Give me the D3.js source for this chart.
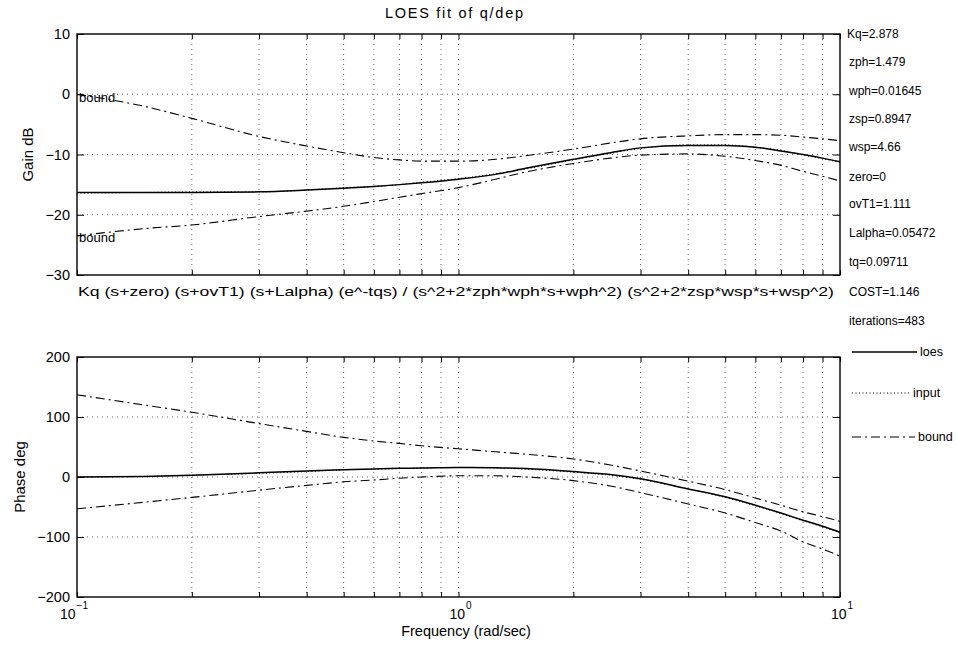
<!DOCTYPE html>
<html>
<head>
<meta charset="utf-8">
<script src="https://cdn.jsdelivr.net/npm/d3@7"></script>
<style>
  html, body { margin: 0; padding: 0; background: #fff; }
  svg { display: block; font-family: "Liberation Sans", Arial, Helvetica, sans-serif; }
</style>
</head>
<body>
<svg id="chart" width="957" height="645"></svg>
<script>
// Frequency grid (rad/sec)
const freq = [0.1, 0.15, 0.2, 0.3, 0.4, 0.5, 0.6, 0.7, 0.8, 1.0, 1.25, 1.5, 2, 2.5, 3, 4, 5, 6, 7, 8, 9, 10];

// Gain (dB)
const gainLoes  = [-16.3, -16.3, -16.3, -16.2, -15.9, -15.6, -15.3, -15.0, -14.7, -14.1, -13.3, -12.3, -10.8, -9.7, -8.9, -8.5, -8.5, -8.8, -9.4, -10.0, -10.6, -11.2];
const gainInput = [-16.4, -16.3, -16.2, -16.2, -15.9, -15.5, -15.3, -15.0, -14.6, -14.0, -13.2, -12.4, -10.9, -9.8, -9.0, -8.4, -8.4, -8.8, -9.3, -10.1, -10.7, -11.3];
const gainUpper = [0.0, -2.0, -4.0, -7.0, -8.6, -9.7, -10.5, -10.9, -11.1, -11.1, -10.8, -10.2, -9.1, -8.1, -7.4, -6.9, -6.7, -6.7, -6.8, -7.1, -7.4, -7.7];
const gainLower = [-23.5, -22.3, -21.7, -20.3, -19.4, -18.6, -17.8, -17.1, -16.5, -15.5, -14.1, -12.9, -11.5, -10.6, -10.1, -9.9, -10.3, -11.0, -11.8, -12.8, -13.6, -14.4];

// Phase (deg)
const phaseLoes  = [0, 1, 3, 7, 10, 12, 13.5, 14.5, 15, 16, 15.5, 14, 9, 4, -3, -20, -33, -47, -60, -72, -82, -92];
const phaseInput = [0, 1, 3, 6, 9, 12, 13, 14, 15, 16, 15, 13, 8, 3, -4, -20, -34, -48, -61, -73, -83, -93];
const phaseUpper = [137, 120, 108, 89, 76, 66, 60, 56, 52, 47, 42, 38, 30, 20, 10, -7, -21, -35, -47, -58, -66, -74];
const phaseLower = [-53, -42, -34, -22, -14, -8, -5, -2, 0, 2, 2, 0, -6, -15, -26, -45, -60, -76, -90, -108, -120, -132];

// Axis ticks
const gainTicks  = [-30, -20, -10, 0, 10];
const phaseTicks = [-200, -100, 0, 100, 200];
const decadeTicks = [0.1, 1, 10];
const decadeExp   = ["-1", "0", "1"];
const minorTicks = [0.2,0.3,0.4,0.5,0.6,0.7,0.8,0.9,2,3,4,5,6,7,8,9];

// Text
const titleText = "LOES fit of q/dep";
const modelText = "Kq (s+zero) (s+ovT1) (s+Lalpha) (e^-tqs) / (s^2+2*zph*wph*s+wph^2) (s^2+2*zsp*wsp*s+wsp^2)";
const paramNames  = ["Kq", "zph", "wph", "zsp", "wsp", "zero", "ovT1", "Lalpha", "tq", "COST", "iterations"];
const paramValues = ["2.878", "1.479", "0.01645", "0.8947", "4.66", "0", "1.111", "0.05472", "0.09711", "1.146", "483"];
const legendNames = ["loes", "input", "bound"];

const svg = d3.select("#chart");

const x = d3.scaleLog().domain([0.1, 10]).range([77, 840]);
const yGain = d3.scaleLinear().domain([-30, 10]).range([275, 34]);
const yPhase = d3.scaleLinear().domain([-200, 200]).range([597, 357]);

const styles = {
  loes:  { width: 1.5, dash: null },
  input: { width: 1,   dash: "1,2.5" },
  bound: { width: 1.1, dash: "9,4,2,4" }
};

function drawPanel(y, ticks, series, labelText, labelX) {
  const g = svg.append("g");
  const [x0, x1] = x.range();
  const [yb, yt] = y.range();

  // dotted grid
  const gridX = minorTicks.concat([1]);
  g.selectAll(".gx").data(gridX).join("line")
    .attr("x1", d => x(d)).attr("x2", d => x(d))
    .attr("y1", yt).attr("y2", yb)
    .attr("stroke", "#444").attr("stroke-width", 0.8).attr("stroke-dasharray", "1,4");
  g.selectAll(".gy").data(ticks.slice(1, -1)).join("line")
    .attr("x1", x0).attr("x2", x1)
    .attr("y1", d => y(d)).attr("y2", d => y(d))
    .attr("stroke", "#444").attr("stroke-width", 0.8).attr("stroke-dasharray", "1,4");

  // curves
  const line = d3.line().x((d, i) => x(freq[i])).y(d => y(d)).curve(d3.curveMonotoneX);
  series.forEach(s => {
    const st = styles[s.kind];
    g.append("path").datum(s.values)
      .attr("d", line)
      .attr("fill", "none")
      .attr("stroke", "#000")
      .attr("stroke-width", st.width)
      .attr("stroke-dasharray", st.dash);
  });

  // frame
  g.append("rect").attr("x", x0).attr("y", yt).attr("width", x1 - x0).attr("height", yb - yt)
    .attr("fill", "none").attr("stroke", "#000").attr("stroke-width", 1.4);

  // inward ticks
  const allX = minorTicks.concat(decadeTicks);
  g.append("g").attr("transform", `translate(0,${yb})`)
    .call(d3.axisTop(x).tickValues(allX).tickSize(5).tickFormat(""))
    .call(a => a.select(".domain").remove());
  g.append("g").attr("transform", `translate(0,${yt})`)
    .call(d3.axisBottom(x).tickValues(allX).tickSize(5).tickFormat(""))
    .call(a => a.select(".domain").remove());
  g.append("g").attr("transform", `translate(${x0},0)`)
    .call(d3.axisRight(y).tickValues(ticks).tickSize(7).tickFormat(""))
    .call(a => a.select(".domain").remove());
  g.append("g").attr("transform", `translate(${x1},0)`)
    .call(d3.axisLeft(y).tickValues(ticks).tickSize(7).tickFormat(""))
    .call(a => a.select(".domain").remove());

  // y tick labels
  g.selectAll(".yl").data(ticks).join("text")
    .attr("x", x0 - 7).attr("y", d => y(d))
    .attr("text-anchor", "end").attr("dominant-baseline", "central")
    .attr("font-size", 14.5).text(d => d === 0 ? "0" : d3.format("")(d).replace("-", "\u2212"));

  // y axis label
  g.append("text")
    .attr("transform", `translate(${labelX},${(yt + yb) / 2}) rotate(-90)`)
    .attr("text-anchor", "middle").attr("dominant-baseline", "central")
    .attr("font-size", 15).text(labelText);
  return g;
}

drawPanel(yGain, gainTicks, [
  { kind: "input", values: gainInput },
  { kind: "bound", values: gainUpper },
  { kind: "bound", values: gainLower },
  { kind: "loes",  values: gainLoes }
], "Gain dB", 27);

drawPanel(yPhase, phaseTicks, [
  { kind: "input", values: phaseInput },
  { kind: "bound", values: phaseUpper },
  { kind: "bound", values: phaseLower },
  { kind: "loes",  values: phaseLoes }
], "Phase deg", 19);

// bound labels next to the start of each gain bound
svg.append("text").attr("x", 79).attr("y", yGain(gainUpper[0]) + 3)
  .attr("dominant-baseline", "central").attr("font-size", 13).text("bound");
svg.append("text").attr("x", 79).attr("y", yGain(gainLower[0]) + 2)
  .attr("dominant-baseline", "central").attr("font-size", 13).text("bound");

// frequency decade labels
decadeTicks.forEach((d, i) => {
  const t = svg.append("text").attr("x", x(d) + (i === 0 ? -3 : 2)).attr("y", 619)
    .attr("text-anchor", "middle").attr("font-size", 14);
  t.append("tspan").text("10");
  t.append("tspan").attr("dy", -10).attr("dx", 1).attr("font-size", 10).text(decadeExp[i].replace("-", "\u2212"));
});

svg.append("text").attr("x", 466).attr("y", 636).attr("text-anchor", "middle")
  .attr("font-size", 14.5).text("Frequency (rad/sec)");

// title
svg.append("text").attr("x", 454).attr("y", 18).attr("text-anchor", "middle")
  .attr("font-size", 14.5).attr("textLength", 138).attr("lengthAdjust", "spacing").text(titleText);

// model structure
svg.append("text").attr("x", 78).attr("y", 296)
  .attr("font-size", 13.5).attr("textLength", 756).attr("lengthAdjust", "spacingAndGlyphs").text(modelText);

// fitted parameters
const paramY = [34, 62, 91, 119, 147, 177, 204, 233, 262, 292, 321];
svg.selectAll(".param").data(paramNames).join("text")
  .attr("x", (d, i) => i === 0 ? 847 : 849)
  .attr("y", (d, i) => paramY[i])
  .attr("dominant-baseline", "central")
  .attr("font-size", 12)
  .text((d, i) => `${d}=${paramValues[i]}`);

// legend
const legY = [352, 393, 437];
const legX2 = [917, 910, 915];
legendNames.forEach((name, i) => {
  const st = styles[name];
  svg.append("line").attr("x1", 852).attr("x2", legX2[i]).attr("y1", legY[i]).attr("y2", legY[i])
    .attr("stroke", "#000").attr("stroke-width", st.width).attr("stroke-dasharray", st.dash);
  svg.append("text").attr("x", legX2[i] + 3).attr("y", legY[i])
    .attr("dominant-baseline", "central").attr("font-size", 12.5).text(name);
});
</script>
</body>
</html>
